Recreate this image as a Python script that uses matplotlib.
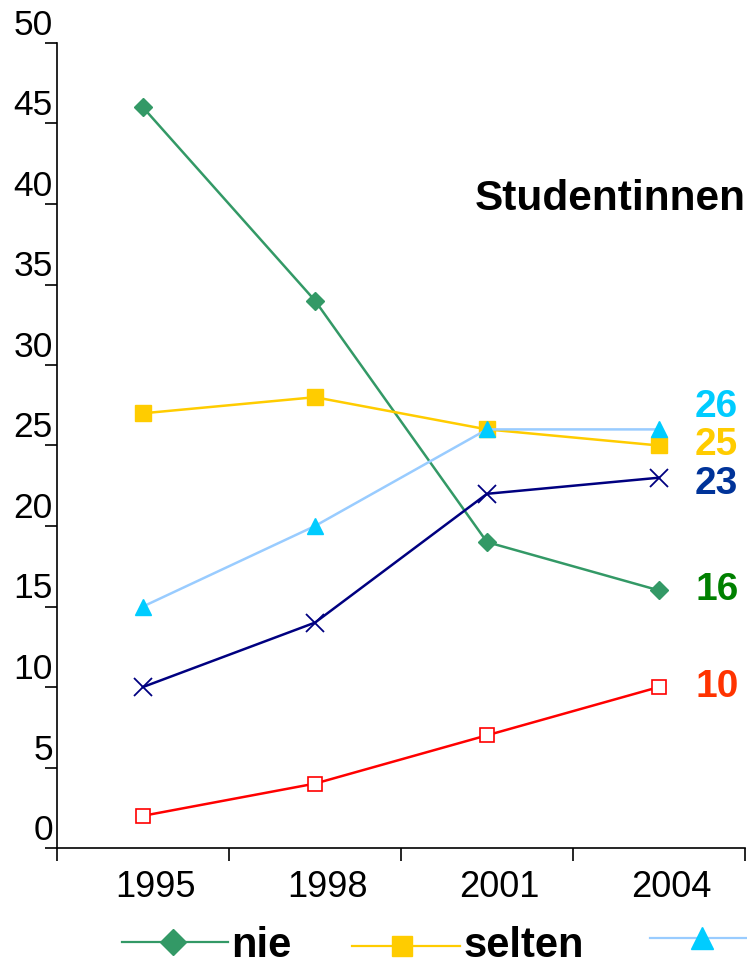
import matplotlib
matplotlib.use('Agg')
import matplotlib.pyplot as plt
from matplotlib.lines import Line2D
from matplotlib.transforms import ScaledTranslation

plt.rcParams['font.family'] = ['Liberation Sans', 'DejaVu Sans']

years = ['1995', '1998', '2001', '2004']
nie = [46, 34, 19, 16]
selten = [27, 28, 26, 25]
tri_series = [15, 20, 26, 26]
cross_series = [10, 14, 22, 23]
red_series = [2, 4, 7, 10]

end_labels = ['26', '25', '23', '16', '10']
end_values = [26, 25, 23, 16, 10]
end_colors = ['#00CCFF', '#FFCC00', '#003399', '#008000', '#FF3300']
end_nudge = [1.4, 0.0, -0.4, 0.0, 0.0]

W, H = 747, 967
fig = plt.figure(figsize=(W / 100, H / 100), dpi=100)
ax = fig.add_axes([57 / W, 1 - 848 / H, 688 / W, 805 / H])

x = range(len(years))
lw = 1.8
ax.plot(x, nie, color='#339966', lw=lw, marker='D', ms=9, mfc='#339966', mec='#339966', zorder=3)
ax.plot(x, selten, color='#FFCC00', lw=lw, marker='s', ms=11, mfc='#FFCC00', mec='#FFCC00', zorder=3)
ax.plot(x, tri_series, color='#99CCFF', lw=lw, marker='^', ms=11, mfc='#00CCFF', mec='#00CCFF', zorder=3)
ax.plot(x, cross_series, color='#000080', lw=lw, marker='x', ms=13, mew=1.3, mec='#000080', zorder=3)
ax.plot(x, red_series, color='#FF0000', lw=lw, marker='s', ms=10.5, mfc='white', mec='#FF0000', mew=1.2, zorder=3)

for lab, val, col, nd in zip(end_labels, end_values, end_colors, end_nudge):
    ax.text(3.21, val + nd, lab, color=col, fontsize=28, fontweight='bold',
            ha='left', va='center', clip_on=False)

ax.text(0.6076, 0.806, 'Studentinnen', transform=ax.transAxes, fontsize=30.5,
        fontweight='bold', ha='left', va='center')

ax.set_xlim(-0.5, 3.5)
ax.set_ylim(0, 50)
for s in ['top', 'right']:
    ax.spines[s].set_visible(False)
for s in ['left', 'bottom']:
    ax.spines[s].set_linewidth(1.2)

ax.set_yticks(range(0, 51, 5))
ax.tick_params(axis='y', direction='out', length=9, width=1.2, labelsize=25.5, pad=-6)
offset = ScaledTranslation(0, 0.21, fig.dpi_scale_trans)
for lbl in ax.get_yticklabels():
    lbl.set_transform(lbl.get_transform() + offset)

ax.set_xticks(list(x))
ax.set_xticklabels(years)
ax.set_xticks([-0.5, 0.5, 1.5, 2.5, 3.5], minor=True)
ax.tick_params(axis='x', which='major', length=0, labelsize=26, pad=16)
ax.tick_params(axis='x', which='minor', direction='out', length=9, width=1.2)
xoff = ScaledTranslation(0.12, 0, fig.dpi_scale_trans)
for lbl in ax.get_xticklabels():
    lbl.set_transform(lbl.get_transform() + xoff)

# legend row (cut off at the right edge like the original)
def fx(px):
    return px / W

def fy(py):
    return 1 - py / H

fig.add_artist(Line2D([fx(122), fx(228)], [fy(942), fy(942)], color='#339966', lw=1.6))
fig.add_artist(Line2D([fx(173)], [fy(942)], marker='D', ms=13, color='#339966'))
fig.text(fx(231), fy(957), 'nie', fontsize=30, fontweight='bold', va='baseline')

fig.add_artist(Line2D([fx(352), fx(460)], [fy(946), fy(946)], color='#FFCC00', lw=1.6))
fig.add_artist(Line2D([fx(402)], [fy(946)], marker='s', ms=15, color='#FFCC00'))
fig.text(fx(463), fy(957), 'selten', fontsize=30, fontweight='bold', va='baseline')

fig.add_artist(Line2D([fx(650), fx(747)], [fy(938), fy(938)], color='#99CCFF', lw=1.6))
fig.add_artist(Line2D([fx(702)], [fy(938)], marker='^', ms=16, color='#00CCFF'))

fig.savefig('out.png', dpi=100)
